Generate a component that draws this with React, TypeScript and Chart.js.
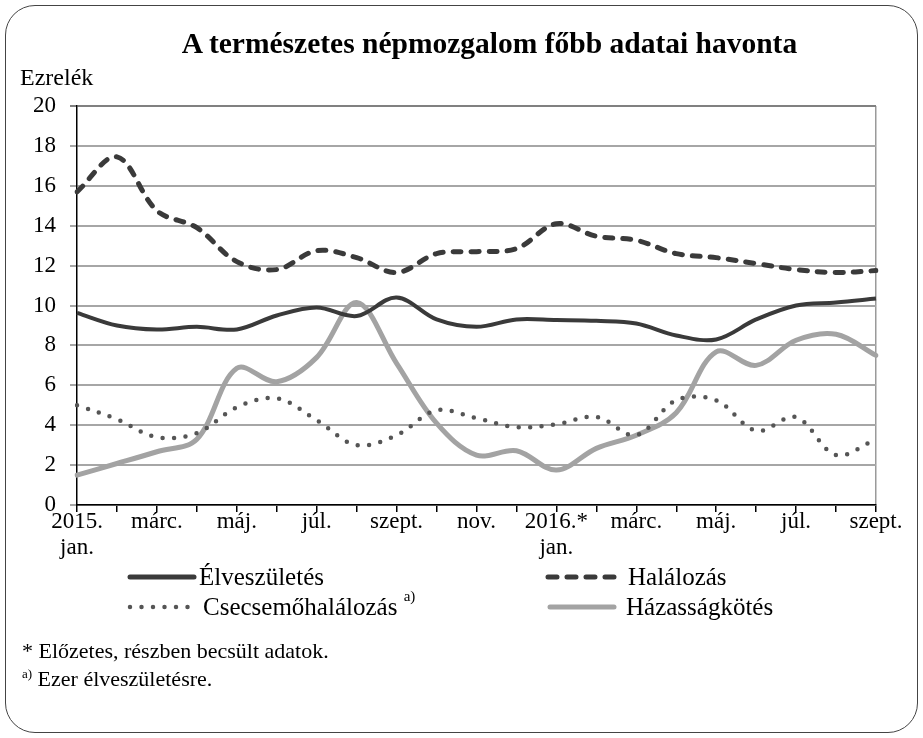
import React, { useEffect, useRef } from "react";
import { Chart, registerables } from "chart.js";

Chart.register(...registerables);

const months = [
  "2015. jan.", "febr.", "márc.", "ápr.", "máj.", "jún.", "júl.", "aug.", "szept.", "okt.", "nov.", "dec.",
  "2016. jan.", "febr.", "márc.", "ápr.", "máj.", "jún.", "júl.", "aug.", "szept.",
];

const tickLabels: (string | string[])[] = [
  ["2015.", "jan."], "", "márc.", "", "máj.", "", "júl.", "", "szept.", "", "nov.", "",
  ["2016.*", "jan."], "", "márc.", "", "máj.", "", "júl.", "", "szept.",
];

const elveszuletes = [9.63, 9.0, 8.8, 8.93, 8.8, 9.5, 9.9, 9.47, 10.4, 9.3, 8.93, 9.3, 9.27, 9.23, 9.1, 8.5, 8.3, 9.3, 10.0, 10.15, 10.35];
const halalozas = [15.7, 17.45, 14.75, 13.9, 12.2, 11.8, 12.75, 12.4, 11.65, 12.6, 12.7, 12.85, 14.1, 13.47, 13.27, 12.6, 12.4, 12.1, 11.8, 11.65, 11.75];
const csecsemo = [5.0, 4.3, 3.4, 3.6, 4.9, 5.35, 4.25, 3.0, 3.5, 4.75, 4.35, 3.9, 4.05, 4.42, 3.5, 5.25, 5.25, 3.72, 4.4, 2.5, 3.3];
const hazassag = [1.5, 2.08, 2.67, 3.3, 6.85, 6.18, 7.4, 10.15, 7.1, 4.1, 2.5, 2.72, 1.75, 2.84, 3.5, 4.62, 7.68, 7.0, 8.26, 8.56, 7.5];

const FONT = '"Liberation Serif", "Times New Roman", serif';
const DARK = "#3a3a3a";
const DOT = "#555555";
const LIGHT = "#a3a3a3";

function LegendSample({ kind }: { kind: string }) {
  const w = kind === "dash" ? 76 : 72;
  let stroke = DARK;
  let dash: string | undefined;
  let width = 5;
  if (kind === "dash") dash = "9 10";
  if (kind === "dot") { stroke = DOT; dash = "0 11.5"; width = 4.5; }
  if (kind === "light") stroke = LIGHT;
  return (
    <svg width={w} height={10} style={{ display: "block" }}>
      <line x1={4} y1={5} x2={w - 4} y2={5} stroke={stroke} strokeWidth={width} strokeLinecap="round" strokeDasharray={dash} />
    </svg>
  );
}

export default function App() {
  const ref = useRef<HTMLCanvasElement | null>(null);
  useEffect(() => {
    if (!ref.current) return;
    const common = { pointRadius: 0, fill: false, tension: 0.35, borderJoinStyle: "round" as const };
    const chart = new Chart(ref.current, {
      type: "line",
      data: {
        labels: months,
        datasets: [
          { ...common, label: "Élveszületés", data: elveszuletes, borderColor: DARK, borderWidth: 4 },
          { ...common, label: "Halálozás", data: halalozas, borderColor: DARK, borderWidth: 5, borderDash: [8, 10], borderCapStyle: "round" },
          { ...common, label: "Csecsemőhalálozás", data: csecsemo, borderColor: DOT, borderWidth: 4.5, borderDash: [0, 11.5], borderCapStyle: "round" },
          { ...common, label: "Házasságkötés", data: hazassag, borderColor: LIGHT, borderWidth: 5, borderCapStyle: "round" },
        ],
      },
      options: {
        responsive: false,
        animation: false,
        layout: { padding: { top: 106, right: 47, bottom: 0, left: 0 } },
        plugins: { legend: { display: false }, tooltip: { enabled: false }, title: { display: false } },
        scales: {
          x: {
            type: "category",
            offset: false,
            grid: {
              drawOnChartArea: true,
              color: (c: any) => (c.index === 20 ? "#9a9a9a" : "rgba(0,0,0,0)"),
              tickColor: "#000",
              tickLength: 7,
              lineWidth: 1.5,
            },
            border: { color: "#000", width: 1.5 },
            ticks: {
              autoSkip: false,
              maxRotation: 0,
              minRotation: 0,
              padding: -3,
              color: "#000",
              font: { family: FONT, size: 23, lineHeight: 1.12 },
              callback: (_v: any, i: number) => tickLabels[i],
            },
            afterFit: (s: any) => {
              s.height = 233;
              s.paddingLeft = 0;
              s.paddingRight = 0;
            },
          },
          y: {
            min: 0,
            max: 20,
            ticks: { stepSize: 2, padding: 14, color: "#000", font: { family: FONT, size: 23 } },
            grid: {
              color: (c: any) => (c.tick && c.tick.value === 20 ? "#808080" : "#a6a6a6"),
              lineWidth: 2,
              tickLength: 7,
            },
            border: { color: "#000", width: 1.5 },
            afterFit: (s: any) => {
              s.width = 77;
              s.paddingTop = 0;
              s.paddingBottom = 0;
            },
          },
        },
      },
    });
    return () => chart.destroy();
  }, []);

  const text: React.CSSProperties = { position: "absolute", fontFamily: FONT, color: "#000", whiteSpace: "nowrap", lineHeight: 1 };
  const legendRow = (left: number, top: number, kind: string, label: React.ReactNode, gap: number) => (
    <div style={{ position: "absolute", left, top, display: "flex", alignItems: "center", fontFamily: FONT, fontSize: 25, whiteSpace: "nowrap", lineHeight: 1 }}>
      <LegendSample kind={kind} />
      <span style={{ marginLeft: gap }}>{label}</span>
    </div>
  );

  return (
    <div style={{ position: "absolute", left: 0, top: 0, width: 923, height: 738, background: "#fff", overflow: "hidden" }}>
      <canvas ref={ref} width={923} height={738} style={{ position: "absolute", left: 0, top: 0, width: 923, height: 738 }} />
      <div style={{ position: "absolute", left: 5, top: 5, width: 913, height: 728, boxSizing: "border-box", border: "1.5px solid #444", borderRadius: 30, pointerEvents: "none" }} />
      <div style={{ ...text, left: 28, width: 923, top: 29, textAlign: "center", fontWeight: "bold", fontSize: 29.5 }}>
        A természetes népmozgalom főbb adatai havonta
      </div>
      <div style={{ ...text, left: 20, top: 65, fontSize: 24 }}>Ezrelék</div>
      {legendRow(126, 564, "solid", "Élveszületés", 1)}
      {legendRow(544, 564, "dash", "Halálozás", 8)}
      {legendRow(126, 594, "dot", <>Csecsemőhalálozás <sup style={{ fontSize: 15, verticalAlign: "top", position: "relative", top: -5 }}>a)</sup></>, 5)}
      {legendRow(546, 594, "light", "Házasságkötés", 8)}
      <div style={{ ...text, left: 22, top: 640, fontSize: 22 }}>* Előzetes, részben becsült adatok.</div>
      <div style={{ ...text, left: 22, top: 668, fontSize: 22 }}>
        <sup style={{ fontSize: 13, verticalAlign: "top", position: "relative", top: -1 }}>a)</sup> Ezer élveszületésre.
      </div>
    </div>
  );
}
